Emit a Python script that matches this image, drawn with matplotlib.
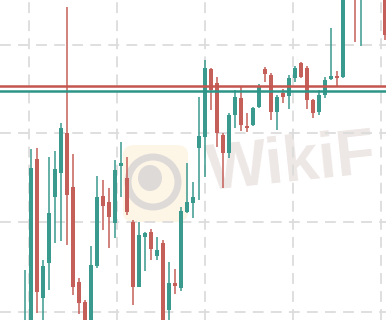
import matplotlib
matplotlib.use("Agg")
import matplotlib.pyplot as plt
from matplotlib.patches import FancyBboxPatch, Ellipse
import numpy as np

# OHLC values (arbitrary price points)
opens = [972, 982, 1153, 1014, 1049, 1115, 1139, 1179, 1125, 1030,
         1010, 987, 1046, 1116, 1110, 1089, 1146, 1134, 1090, 1025,
         1075, 1080, 1056, 1069, 1002, 1029, 1024, 1100, 1109, 1164,
         1175, 1243, 1229, 1177, 1159, 1197, 1214, 1186, 1187, 1205,
         1243, 1237, 1200, 1219, 1216, 1234, 1249, 1244, 1212, 1200,
         1217, 1233, 1236, 1235, 1325, 1370, 1318, 1330, 1375, 1340,
         1370]
highs = [1042, 1163, 1164, 1052, 1155, 1161, 1189, 1305, 1158, 1034,
         1012, 1066, 1136, 1132, 1124, 1152, 1170, 1155, 1092, 1090,
         1080, 1083, 1075, 1072, 1050, 1043, 1105, 1149, 1130, 1215,
         1252, 1244, 1235, 1179, 1199, 1222, 1226, 1199, 1205, 1228,
         1245, 1239, 1217, 1223, 1237, 1246, 1250, 1246, 1213, 1222,
         1235, 1284, 1241, 1337, 1370, 1380, 1355, 1380, 1385, 1390,
         1400]
lows = [962, 977, 999, 987, 1022, 1069, 1071, 1067, 1017, 998,
        977, 982, 1044, 1082, 1064, 1074, 1115, 1097, 1007, 1025,
        1041, 1052, 1052, 982, 987, 1018, 1021, 1099, 1094, 1112,
        1135, 1202, 1165, 1124, 1154, 1184, 1181, 1180, 1186, 1204,
        1230, 1192, 1182, 1209, 1203, 1230, 1234, 1203, 1194, 1197,
        1214, 1232, 1225, 1234, 1317, 1270, 1266, 1320, 1325, 1330,
        1272]
closes = [990, 1144, 1020, 1046, 1099, 1143, 1184, 1117, 1025, 1009,
          982, 1047, 1115, 1106, 1095, 1142, 1149, 1100, 1025, 1077,
          1079, 1063, 1062, 987, 1029, 1026, 1101, 1110, 1115, 1176,
          1244, 1222, 1179, 1159, 1197, 1215, 1187, 1184, 1204, 1226,
          1238, 1200, 1215, 1215, 1234, 1244, 1235, 1212, 1199, 1217,
          1232, 1236, 1234, 1327, 1360, 1322, 1345, 1370, 1340, 1380,
          1277]
level_red = 1226
level_teal = 1221
watermark = "WikiF"

UP = "#3a9a8e"
DOWN = "#c55f59"

fig = plt.figure(figsize=(3.86, 3.20), dpi=100)
ax = fig.add_axes([0, 0, 1, 1])

# watermark logo and text
box = FancyBboxPatch((123 / 386, 1 - 222 / 320), 65 / 386, 77 / 320,
                     boxstyle="round,pad=0,rounding_size=0.03",
                     transform=fig.transFigure, facecolor="#fdf5e6",
                     edgecolor="none", zorder=0)
fig.patches.append(box)
ring = Ellipse((153 / 386, 1 - 182 / 320), 50 / 386, 50 / 320,
               transform=fig.transFigure, facecolor="none",
               edgecolor="#dedad8", linewidth=5, zorder=0.5)
fig.patches.append(ring)
head = Ellipse((150 / 386, 1 - 178 / 320), 24 / 386, 26 / 320,
               transform=fig.transFigure, facecolor="#dedad8",
               edgecolor="none", zorder=0.5)
fig.patches.append(head)
fig.text(204 / 386, 1 - 190 / 320, watermark, fontsize=46,
         fontweight="bold", family="Liberation Sans", color="#ede7e5",
         rotation=6, ha="left", va="baseline", zorder=0.5)

x = np.arange(len(opens))
o = np.array(opens, float)
h = np.array(highs, float)
l = np.array(lows, float)
c = np.array(closes, float)
up = c >= o
colors = np.where(up, UP, DOWN)

ax.vlines(x, l, h, colors=colors, linewidth=1.1, zorder=3)
body = np.where(np.abs(c - o) < 2, 2, c - o)
bottom = np.where(np.abs(c - o) < 2, (c + o) / 2 - 1, o)
ax.bar(x, body, bottom=bottom, width=0.66, color=colors, linewidth=0, zorder=4)

ax.axhline(level_red, color="#c4554f", linewidth=1.8, zorder=5)
ax.axhline(level_teal, color="#2d9488", linewidth=1.8, zorder=5)

ax.set_xlim(-4.22, 60.12)
ax.set_ylim(992, 1312)
ax.set_xticks([0.6, 15.3, 29.95, 44.6, 59.3])
ax.set_yticks([1000, 1090, 1179, 1267])
ax.grid(True, color="#dcdcdc", linewidth=1.3, linestyle=(0, (6, 4)), zorder=1)
ax.tick_params(length=0, labelbottom=False, labelleft=False)
for s in ax.spines.values():
    s.set_visible(False)
ax.set_facecolor("none")
ax.set_zorder(1)

fig.savefig("out.png", dpi=100)
